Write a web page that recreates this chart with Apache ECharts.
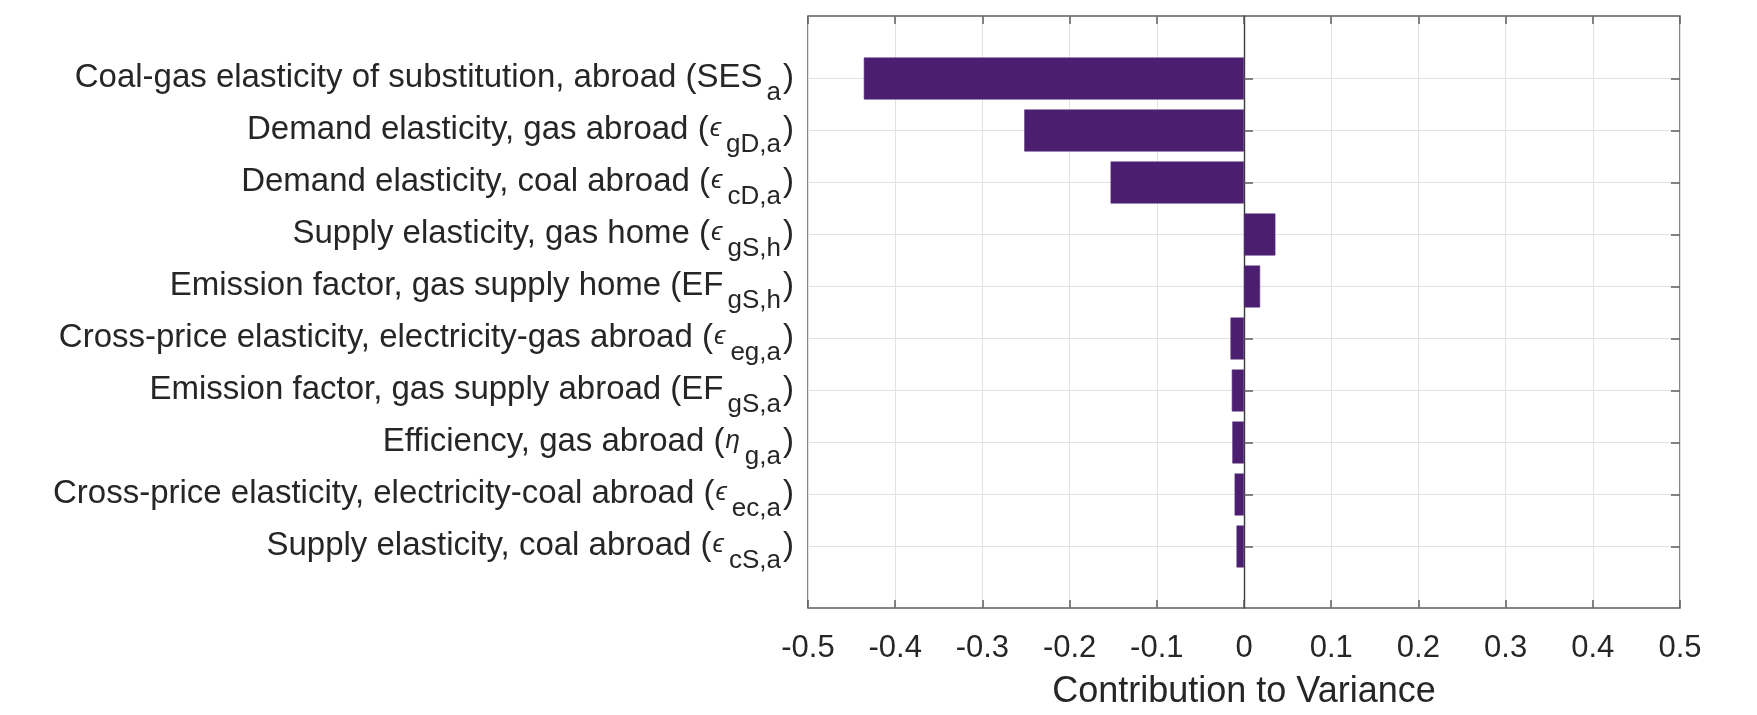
<!DOCTYPE html>
<html>
<head>
<meta charset="utf-8">
<title>Contribution to Variance</title>
<script src="https://cdn.jsdelivr.net/npm/echarts@6/dist/echarts.min.js"></script>
<style>
  html, body { margin: 0; padding: 0; background: #ffffff; }
  #chart { width: 1757px; height: 715px; }
</style>
</head>
<body>
<div id="chart"></div>
<script>
// Parameter labels, split into plain text, symbol and subscript parts
const labelText = [
  'Coal-gas elasticity of substitution, abroad (',
  'Demand elasticity, gas abroad (',
  'Demand elasticity, coal abroad (',
  'Supply elasticity, gas home (',
  'Emission factor, gas supply home (',
  'Cross-price elasticity, electricity-gas abroad (',
  'Emission factor, gas supply abroad (',
  'Efficiency, gas abroad (',
  'Cross-price elasticity, electricity-coal abroad (',
  'Supply elasticity, coal abroad ('
];
const labelSymbol = ['SES', 'ϵ', 'ϵ', 'ϵ', 'EF', 'ϵ', 'EF', 'η', 'ϵ', 'ϵ'];
const labelSub = ['a', 'gD,a', 'cD,a', 'gS,h', 'gS,h', 'eg,a', 'gS,a', 'g,a', 'ec,a', 'cS,a'];

// Contribution of each parameter to the output variance
const contribution = [-0.436, -0.252, -0.153, 0.036, 0.0185, -0.0155, -0.014, -0.0134, -0.0108, -0.0086];

// Horizontal axis ticks
const xMin = -0.5;
const xMax = 0.5;
const xStep = 0.1;

const categories = labelText.map((t, i) => String(i));

const FONT = '"Liberation Sans", Arial, Helvetica, sans-serif';
const TEXT = '#262626';
const FRAME = '#5e5e5e';
const GRID = '#e2e2e2';

function symbolStyle(sym) {
  return (sym === 'ϵ' || sym === 'η') ? 'g' : 'm';
}

const chart = echarts.init(document.getElementById('chart'), null, { renderer: 'canvas' });

chart.setOption({
  backgroundColor: '#ffffff',
  animation: false,
  grid: [
    // frame of the plot box
    { left: 808, right: 77, top: 16, bottom: 107, show: true, borderColor: FRAME, borderWidth: 1.5, backgroundColor: 'transparent' },
    // band area holding the ten bars
    { left: 808, right: 77, top: 52.5, bottom: 142.5 }
  ],
  xAxis: [
    {
      type: 'value', gridIndex: 0, position: 'bottom',
      min: xMin, max: xMax, interval: xStep,
      axisLine: { show: false },
      axisTick: { show: true, inside: true, length: 8, lineStyle: { color: FRAME, width: 1.5 } },
      axisLabel: {
        margin: 25, color: TEXT, fontSize: 31, fontFamily: FONT,
        formatter: v => String(Math.round(v * 10) / 10)
      },
      splitLine: { show: true, lineStyle: { color: GRID, width: 1 } },
      name: 'Contribution to Variance',
      nameLocation: 'middle', nameGap: 66,
      nameTextStyle: { color: TEXT, fontSize: 36, fontFamily: FONT }
    },
    {
      type: 'value', gridIndex: 0, position: 'top',
      min: xMin, max: xMax, interval: xStep,
      axisLine: { show: false },
      axisTick: { show: true, inside: true, length: 8, lineStyle: { color: FRAME, width: 1.5 } },
      axisLabel: { show: false },
      splitLine: { show: false }
    },
    {
      type: 'value', gridIndex: 1,
      min: xMin, max: xMax, interval: xStep,
      show: false,
      splitLine: { show: false }
    }
  ],
  yAxis: [
    {
      // zero reference line across the full plot height
      type: 'value', gridIndex: 0, min: 0, max: 1,
      axisLine: { show: true, onZero: true, lineStyle: { color: '#3a3a3a', width: 1.4 } },
      axisTick: { show: false },
      axisLabel: { show: false },
      splitLine: { show: false }
    },
    {
      type: 'category', gridIndex: 1, position: 'left', inverse: true,
      data: categories,
      axisLine: { show: false },
      axisTick: { show: true, inside: true, alignWithLabel: true, length: 9, lineStyle: { color: FRAME, width: 1.5 } },
      splitLine: { show: true, alignWithLabel: true, interval: 0, lineStyle: { color: GRID, width: 1 } },
      axisLabel: {
        margin: 14, interval: 0,
        formatter: (v) => {
          const i = Number(v);
          const s = labelSymbol[i];
          return '{m|' + labelText[i] + '}{' + symbolStyle(s) + '|' + s + '}{s|' + labelSub[i] + '}{m|)}';
        },
        rich: {
          m: { color: TEXT, fontSize: 33, fontFamily: FONT, padding: [0, 0, 1, 0] },
          g: { color: TEXT, fontSize: 26, fontFamily: FONT, fontStyle: 'italic', padding: [0, 1, 4, 1] },
          s: { color: TEXT, fontSize: 26, fontFamily: FONT, padding: [28, 2, 0, 4] }
        }
      }
    },
    {
      type: 'category', gridIndex: 1, position: 'right', inverse: true,
      data: categories,
      axisLine: { show: false },
      axisTick: { show: true, inside: true, alignWithLabel: true, length: 9, lineStyle: { color: FRAME, width: 1.5 } },
      axisLabel: { show: false },
      splitLine: { show: false }
    }
  ],
  series: [
    {
      type: 'bar',
      xAxisIndex: 2,
      yAxisIndex: 1,
      data: contribution,
      barWidth: 42,
      itemStyle: { color: '#4b1e70', borderColor: '#5a3480', borderWidth: 0.6 },
      z: 3
    }
  ]
});
</script>
</body>
</html>
